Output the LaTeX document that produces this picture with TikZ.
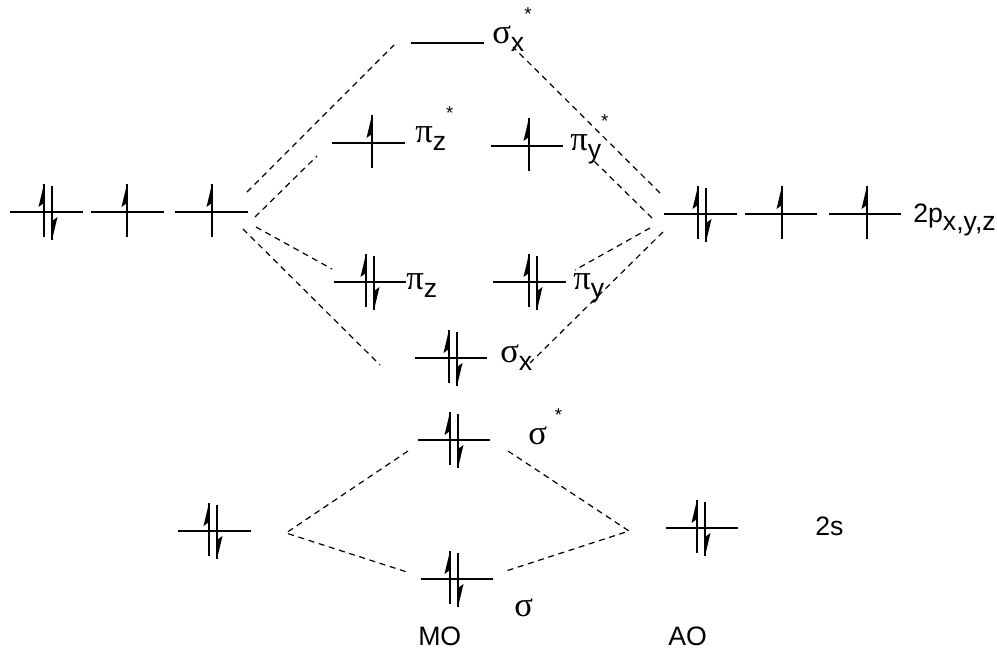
\documentclass[tikz,border=0pt]{standalone}
\usepackage{fontspec}
\setmainfont{Liberation Sans}
\newfontfamily\grk{Liberation Serif}[Scale=1.3]
\usetikzlibrary{positioning}

% orbital label helpers
\newcommand{\lo}[1]{\raisebox{-0.3em}{#1}}
\newcommand{\st}{\raisebox{0.85em}{\fontsize{14}{14}\selectfont *}}
% electrons as half arrows
\newcommand{\spinup}[2]{%
  \draw[spin] (#1,#2-28) -- (#1,#2+25);
  \fill (#1,#2-28) -- (#1-5.5,#2-5) -- (#1,#2-9) -- cycle;}
\newcommand{\spindown}[2]{%
  \draw[spin] (#1,#2-26) -- (#1,#2+28);
  \fill (#1,#2+28) -- (#1+5.5,#2+5) -- (#1,#2+9) -- cycle;}
\newcommand{\spinpair}[2]{\spinup{#1-4}{#2}\spindown{#1+4}{#2}}

\tikzset{
  level/.style={line width=1.5pt},
  spin/.style={line width=1.3pt},
  corr/.style={line width=0.9pt, dash pattern=on 4.5pt off 3.5pt},
  orb/.style={anchor=base west, inner sep=0pt, font=\fontsize{20}{24}\selectfont},
}

\begin{document}
\begin{tikzpicture}[x=0.75pt, y=-0.75pt]
  \useasboundingbox (0,0) rectangle (997,657);
  % left atom, 2p
  \foreach \a/\b in {10/83, 91/164, 175/248}
    \draw[level] (\a,212) -- (\b,212);
  \spinpair{48}{212}
  \spinup{127}{212}
  \spinup{212}{212}
  % right atom, 2p
  \foreach \a/\b in {664/737, 745/817, 829/901}
    \draw[level] (\a,214) -- (\b,214);
  \spinpair{702}{214}
  \spinup{782}{214}
  \spinup{867}{214}
  \node[orb] (p2) at (913,222) {2p\lo{x,y,z}};
  % molecular orbitals from 2p
  \draw[level] (411,43) -- (484,43);
  \node[orb] (sxs) at (492,43) {{\grk σ}\lo{x}\st};
  \draw[level] (332,143) -- (405,143);
  \spinup{372}{143}
  \node[orb] (pzs) at (415,142) {{\grk π}\lo{z}\st};
  \draw[level] (491,146) -- (563,146);
  \spinup{529}{146}
  \node[orb] (pys) at (570,150) {{\grk π}\lo{y}\st};
  \draw[level] (334,282) -- (406,282);
  \spinpair{370}{282}
  \node[orb] (pz) at (406,289) {{\grk π}\lo{z}};
  \draw[level] (493,282) -- (566,282);
  \spinpair{533}{282}
  \node[orb] (py) at (573,289) {{\grk π}\lo{y}};
  \draw[level] (415,358) -- (487,358);
  \spinpair{453}{358}
  \node[orb] (sx) at (500,362) {{\grk σ}\lo{x}};
  % 2s and its molecular orbitals
  \draw[level] (178,531) -- (251,531);
  \spinpair{213}{531}
  \draw[level] (666,528) -- (738,528);
  \spinpair{701}{528}
  \node[orb] (s2) at (815,535) {2s};
  \draw[level] (418,440) -- (490,440);
  \spinpair{454}{440}
  \node[orb] (ss) at (528,444) {{\grk σ}\hspace{0.3em}\st};
  \draw[level] (421,579) -- (493,579);
  \spinpair{454}{579}
  \node[orb] (s) at (514,616) {{\grk σ}};
  % column labels
  \node[orb] (mo) at (418,645) {MO};
  \node[orb] (ao) at (668,645) {AO};
  % correlation line ends
  \coordinate (la1) at (247,192); \coordinate (lb1) at (394,45);
  \coordinate (la2) at (255,217); \coordinate (lb2) at (317,156);
  \coordinate (la3) at (256,227); \coordinate (lb3) at (332,269);
  \coordinate (la4) at (243,229); \coordinate (lb4) at (380,365);
  \coordinate (ra1) at (660,193); \coordinate (rb1) at (513,47);
  \coordinate (ra2) at (652,218); \coordinate (rb2) at (593,160);
  \coordinate (ra3) at (650,228); \coordinate (rb3) at (575,270);
  \coordinate (ra4) at (663,232); \coordinate (rb4) at (530,363);
  \coordinate (ls) at (286,533); \coordinate (rs) at (629,531);
  \coordinate (ssl) at (408,451); \coordinate (ssr) at (508,451);
  \coordinate (sl) at (410,573); \coordinate (sr) at (506,571);
  % correlation lines
  \foreach \i in {1,...,4} {
    \draw[corr] (la\i) -- (lb\i);
    \draw[corr] (ra\i) -- (rb\i);
  }
  \draw[corr] (ssl) -- (ls) -- (sl);
  \draw[corr] (ssr) -- (rs) -- (sr);
\end{tikzpicture}
\end{document}
